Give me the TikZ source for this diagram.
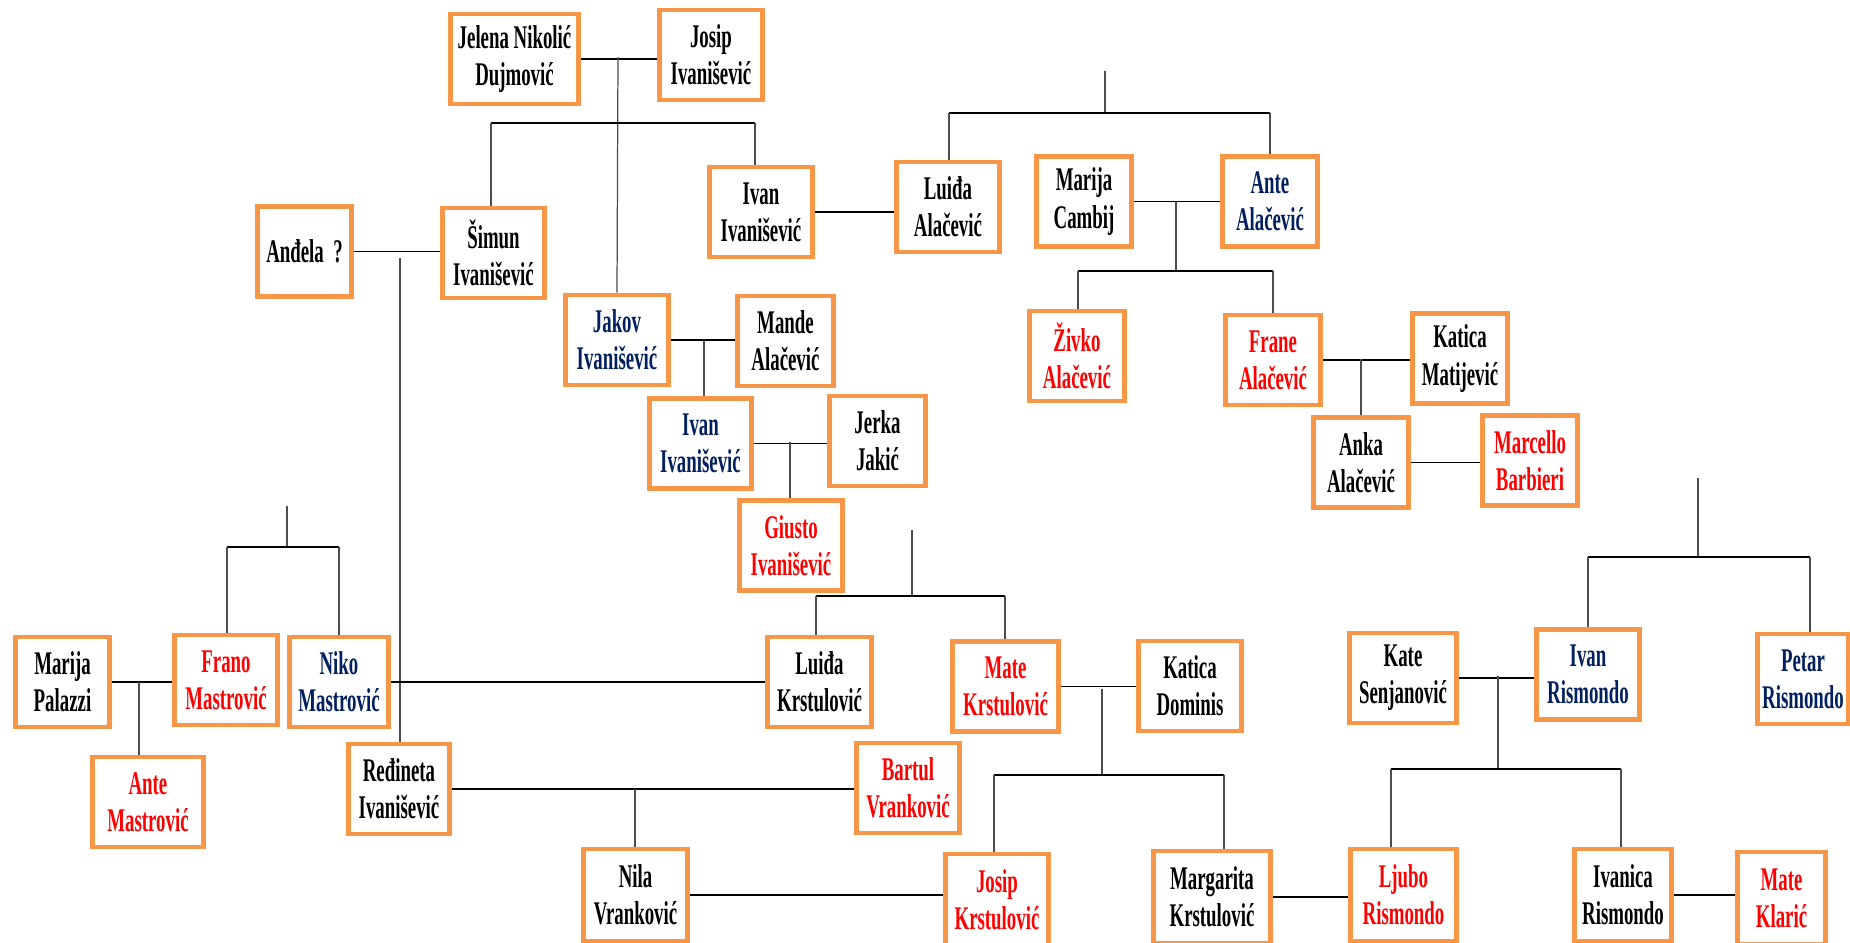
\documentclass[tikz,border=0pt]{standalone}
\usepackage{fontspec}
\setmainfont{Liberation Serif}[FakeStretch=0.57]
\usetikzlibrary{calc}
\definecolor{boxorange}{HTML}{F79646}
\definecolor{navyname}{HTML}{002060}
\definecolor{redname}{HTML}{FF0000}
\tikzset{
  person/.style={draw=boxorange, line width=1.3pt, fill=white, align=center,
    inner sep=1pt, minimum height=0.9cm,
    font=\fontsize{9.4}{10.6}\selectfont\bfseries},
  pblue/.style={person, text=navyname},
  pred/.style={person, text=redname},
  couple/.style={line width=0.55pt},
  desc/.style={line width=0.35pt, black!70},
}

\begin{document}
\begin{tikzpicture}[x=0.01cm, y=-0.01cm]
        \useasboundingbox (0,0) rectangle (1850,943);

        % top generation
        \node[person, minimum width=1.28cm] (jelena) at (514.5,59) {Jelena Nikolić\\Dujmović};
        \node[person, minimum width=1.03cm] (josipI) at (711,55) {Josip\\Ivanišević};
        \node[person, minimum width=1.03cm] (ivanT) at (761,212) {Ivan\\Ivanišević};
        \node[person, minimum width=1.03cm] (luidaA) at (948,207) {Luiđa\\Alačević};
        \node[person, minimum width=0.95cm] (marijaC) at (1084,201.5) {Marija\\Cambij};
        \node[pblue, minimum width=0.95cm] (anteA) at (1270,201.5) {Ante\\Alačević};
        \node[person, minimum width=0.94cm] (andela) at (304.5,251.5) {Anđela~~?};
        \node[person, minimum width=1.02cm] (simun) at (493.5,253) {Šimun\\Ivanišević};

        % middle
        \node[pblue, minimum width=1.03cm] (jakov) at (617,340) {Jakov\\Ivanišević};
        \node[person, minimum width=0.96cm] (mande) at (785.5,341) {Mande\\Alačević};
        \node[pred, minimum width=0.95cm] (zivko) at (1077,356) {Živko\\Alačević};
        \node[pred, minimum width=0.95cm] (frane) at (1273,360) {Frane\\Alačević};
        \node[person, minimum width=0.95cm] (katicaM) at (1460,358.5) {Katica\\Matijević};
        \node[pblue, minimum width=1.02cm] (ivanM) at (700.5,443.5) {Ivan\\Ivanišević};
        \node[person, minimum width=0.96cm] (jerka) at (877.5,441) {Jerka\\Jakić};
        \node[person, minimum width=0.95cm] (anka) at (1361,462.5) {Anka\\Alačević};
        \node[pred, minimum width=0.95cm] (marcello) at (1530,460.5) {Marcello\\Barbieri};
        \node[pred, minimum width=1.03cm] (giusto) at (791,545.5) {Giusto\\Ivanišević};

        % lower row
        \node[person, minimum width=0.94cm] (marijaP) at (62.5,682) {Marija\\Palazzi};
        \node[pred, minimum width=1.03cm] (frano) at (226,680) {Frano\\Mastrović};
        \node[pblue, minimum width=0.99cm] (niko) at (339,682) {Niko\\Mastrović};
        \node[person, minimum width=1.04cm] (luidaK) at (819.5,682) {Luiđa\\Krstulović};
        \node[pred, minimum width=1.06cm] (mateK) at (1005.5,686.5) {Mate\\Krstulović};
        \node[person, minimum width=1.03cm] (katicaD) at (1190,686) {Katica\\Dominis};
        \node[person, minimum width=1.07cm] (kate) at (1403,678) {Kate\\Senjanović};
        \node[pblue, minimum width=1.03cm] (ivanR) at (1588,674.5) {Ivan\\Rismondo};
        \node[pblue, minimum width=0.91cm] (petar) at (1803,679) {Petar\\Rismondo};
        \node[pred, minimum width=1.11cm] (anteM) at (148,802) {Ante\\Mastrović};
        \node[person, minimum width=1.01cm] (redineta) at (399,789) {Ređineta\\Ivanišević};
        \node[pred, minimum width=1.03cm] (bartul) at (908,788) {Bartul\\Vranković};

        % bottom row, cut by the page edge
        \node[person, minimum width=1.04cm, minimum height=0.92cm] (nila) at (635.5,895) {Nila\\Vranković};
        \node[pred, minimum width=1.03cm, minimum height=0.92cm] (josipK) at (997,900) {Josip\\Krstulović};
        \node[person, minimum width=1.17cm, minimum height=0.92cm] (margarita) at (1212,897) {Margarita\\Krstulović};
        \node[pred, minimum width=1.06cm, minimum height=0.92cm] (ljubo) at (1403.5,895) {Ljubo\\Rismondo};
        \node[person, minimum width=0.97cm, minimum height=0.92cm] (ivanica) at (1623,895) {Ivanica\\Rismondo};
        \node[pred, minimum width=0.88cm, minimum height=0.92cm] (mateKl) at (1781.5,898) {Mate\\Klarić};

        % Ivanišević family
        \draw[couple] (jelena.east) -- (jelena.east -| josipI.west);
        \coordinate (jjM) at (618,57);
        \draw[desc] (jjM) -- (jakov.north);
        \coordinate (sbL) at (491,123);
        \coordinate (sbR) at (755,123);
        \draw[couple] (sbL) -- (sbR);
        \draw[desc] (sbL) -- (sbL |- simun.north);
        \draw[desc] (sbR) -- (sbR |- ivanT.north);
        \draw[couple] (ivanT.east) -- (ivanT.east -| luidaA.west);
        \draw[couple] (andela.east) -- (andela.east -| simun.west);
        \coordinate (asM) at (400,258);
        \draw[desc] (asM) -- (asM |- redineta.north);
        \draw[couple] (jakov.east) -- (jakov.east -| mande.west);
        \coordinate (jmM) at (704,341);
        \draw[desc] (jmM) -- (jmM |- ivanM.north);
        \draw[couple] (ivanM.east) -- (ivanM.east -| jerka.west);
        \coordinate (ijM) at (790,442);
        \draw[desc] (ijM) -- (ijM |- giusto.north);

        % Alačević family
        \coordinate (trS) at (1105,71);
        \coordinate (trL) at (949,113);
        \coordinate (trR) at (1270,113);
        \draw[desc] (trS) -- (trS |- trL);
        \draw[couple] (trL) -- (trR);
        \draw[desc] (trL) -- (trL |- luidaA.north);
        \draw[desc] (trR) -- (anteA.north);
        \draw[couple] (marijaC.east) -- (marijaC.east -| anteA.west);
        \coordinate (caM) at (1176,202);
        \coordinate (caL) at (1078,271);
        \coordinate (caR) at (1273,271);
        \draw[desc] (caM) -- (caM |- caL);
        \draw[couple] (caL) -- (caR);
        \draw[desc] (caL) -- (caL |- zivko.north);
        \draw[desc] (caR) -- (frane.north);
        \draw[couple] (frane.east) -- (frane.east -| katicaM.west);
        \coordinate (fkM) at (1361,359);
        \draw[desc] (fkM) -- (anka.north);
        \draw[couple] (anka.east) -- (anka.east -| marcello.west);

        % Mastrović family
        \coordinate (msS) at (287,506);
        \coordinate (msL) at (227,547);
        \coordinate (msR) at (339,547);
        \draw[desc] (msS) -- (msS |- msL);
        \draw[couple] (msL) -- (msR);
        \draw[desc] (msL) -- (msL |- frano.north);
        \draw[desc] (msR) -- (niko.north);
        \draw[couple] (marijaP.east) -- (marijaP.east -| frano.west);
        \coordinate (pfM) at (139,682);
        \draw[desc] (pfM) -- (pfM |- anteM.north);
        \draw[couple] (niko.east) -- (niko.east -| luidaK.west);

        % Krstulović family
        \coordinate (lkS) at (912,530);
        \coordinate (lkL) at (816,596);
        \coordinate (lkR) at (1005,596);
        \draw[desc] (lkS) -- (lkS |- lkL);
        \draw[couple] (lkL) -- (lkR);
        \draw[desc] (lkL) -- (lkL |- luidaK.north);
        \draw[desc] (lkR) -- (lkR |- mateK.north);
        \draw[couple] (mateK.east) -- (mateK.east -| katicaD.west);
        \coordinate (mkM) at (1102,689);
        \coordinate (mkL) at (994,775);
        \coordinate (mkR) at (1224,775);
        \draw[desc] (mkM) -- (mkM |- mkL);
        \draw[couple] (mkL) -- (mkR);
        \draw[desc] (mkL) -- (mkL |- josipK.north);
        \draw[desc] (mkR) -- (mkR |- margarita.north);

        % Vranković
        \draw[couple] (redineta.east) -- (redineta.east -| bartul.west);
        \coordinate (rvM) at (635,789);
        \draw[desc] (rvM) -- (rvM |- nila.north);
        \draw[couple] (nila.east) -- (nila.east -| josipK.west);

        % Rismondo family
        \coordinate (rsS) at (1698,478);
        \coordinate (rsL) at (1588,557);
        \coordinate (rsR) at (1810,557);
        \draw[desc] (rsS) -- (rsS |- rsL);
        \draw[couple] (rsL) -- (rsR);
        \draw[desc] (rsL) -- (ivanR.north);
        \draw[desc] (rsR) -- (rsR |- petar.north);
        \draw[couple] (kate.east) -- (kate.east -| ivanR.west);
        \coordinate (kiM) at (1498,676);
        \coordinate (kiL) at (1391,769);
        \coordinate (kiR) at (1621,769);
        \draw[desc] (kiM) -- (kiM |- kiL);
        \draw[couple] (kiL) -- (kiR);
        \draw[desc] (kiL) -- (kiL |- ljubo.north);
        \draw[desc] (kiR) -- (kiR |- ivanica.north);
        \draw[couple] (margarita.east) -- (margarita.east -| ljubo.west);
        \draw[couple] (ivanica.east) -- (ivanica.east -| mateKl.west);
\end{tikzpicture}
\end{document}
